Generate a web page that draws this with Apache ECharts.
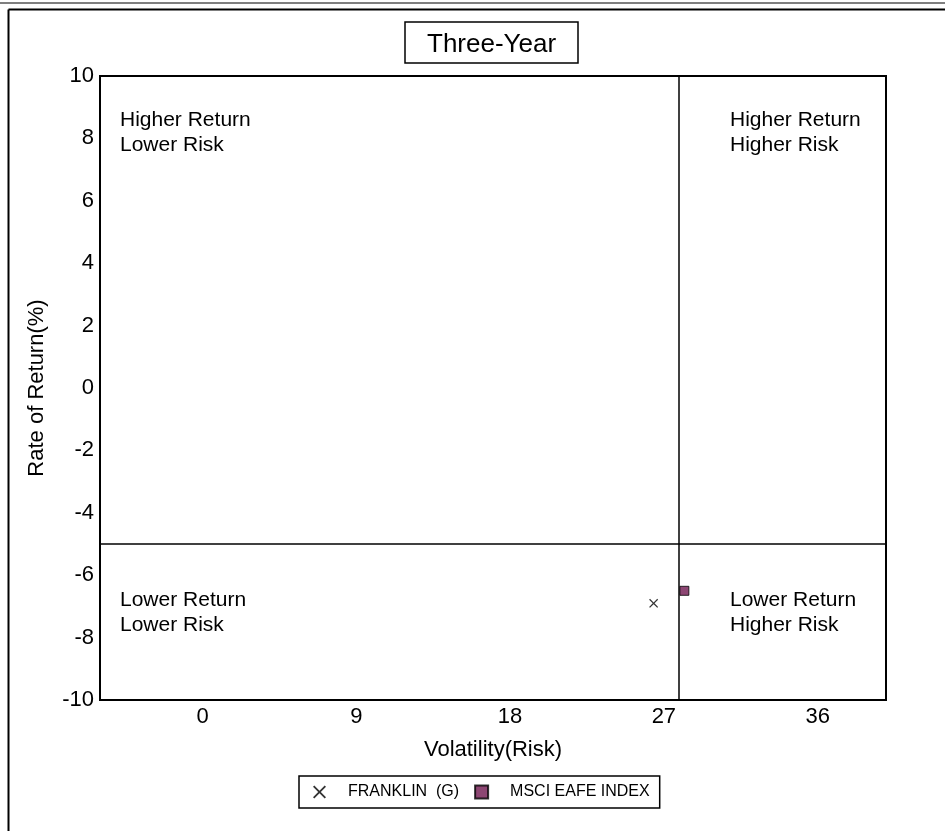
<!DOCTYPE html>
<html>
<head>
<meta charset="utf-8">
<script src="https://cdn.jsdelivr.net/npm/echarts@6/dist/echarts.min.js"></script>
<style>
html,body{margin:0;padding:0;background:#fff;}
#c{width:945px;height:831px;}
</style>
</head>
<body>
<div id="c"></div>
<script>
const titleText = 'Three-Year';
const seriesNames = ['FRANKLIN  (G)', 'MSCI EAFE INDEX'];
const franklinPoints = [[26.4, -6.9]];
const eafePoints = [[28.2, -6.5]];
const xTickValues = [0, 9, 18, 27, 36];
const xRange = [-6, 40];
const yRange = [-10, 10];
const yInterval = 2;
const quadrantX = 27.9;
const quadrantY = -5;
const quadrantTexts = [
  ['Higher Return', 'Lower Risk'],
  ['Higher Return', 'Higher Risk'],
  ['Lower Return', 'Lower Risk'],
  ['Lower Return', 'Higher Risk']
];
const xName = 'Volatility(Risk)';
const yName = 'Rate of Return(%)';

const FONT = 'Liberation Sans, Arial, Helvetica, sans-serif';
const crossPath = 'path://M0,1L1,0L5,4L9,0L10,1L6,5L10,9L9,10L5,6L1,10L0,9L4,5Z';

const chart = echarts.init(document.getElementById('c'), null, {renderer: 'canvas'});

const quadPos = [[120, 108], [730, 108], [120, 588], [730, 588]];
const quadGraphics = quadrantTexts.map((lines, i) => ({
  type: 'text',
  left: quadPos[i][0],
  top: quadPos[i][1],
  style: {
    text: lines.join('\n'),
    font: '21px ' + FONT,
    fill: '#000',
    lineHeight: 25
  }
}));

const option = {
  animation: false,
  backgroundColor: '#fff',
  textStyle: {fontFamily: FONT},
  title: {
    text: titleText,
    left: 405,
    top: 22,
    padding: [10, 22, 5, 22],
    borderColor: '#000',
    borderWidth: 1.5,
    textStyle: {fontSize: 26, fontWeight: 'normal', color: '#000', fontFamily: FONT}
  },
  legend: {
    left: 299,
    top: 776,
    orient: 'horizontal',
    borderColor: '#000',
    borderWidth: 1.5,
    padding: [8, 10, 8, 14],
    itemWidth: 13,
    itemHeight: 13,
    itemGap: 15,
    textStyle: {fontSize: 16, color: '#000', fontFamily: FONT, padding: [0, 0, 0, 17]},
    data: [
      {name: seriesNames[0], icon: crossPath},
      {name: seriesNames[1], icon: 'rect'}
    ]
  },
  grid: {
    left: 100, right: 59, top: 76, bottom: 131,
    show: true,
    borderColor: '#000',
    borderWidth: 2,
    containLabel: false
  },
  xAxis: {
    type: 'value',
    min: xRange[0],
    max: xRange[1],
    name: xName,
    nameLocation: 'middle',
    nameGap: 39,
    nameTextStyle: {fontSize: 22, color: '#000', fontFamily: FONT},
    axisLine: {show: true, onZero: false, lineStyle: {color: '#000', width: 2}},
    axisTick: {show: false},
    splitLine: {show: false},
    axisLabel: {
      customValues: xTickValues,
      fontSize: 22, color: '#000', fontFamily: FONT, margin: 6
    }
  },
  yAxis: {
    type: 'value',
    min: yRange[0],
    max: yRange[1],
    interval: yInterval,
    name: yName,
    nameLocation: 'middle',
    nameGap: 52,
    nameTextStyle: {fontSize: 22, color: '#000', fontFamily: FONT},
    axisLine: {show: true, onZero: false, lineStyle: {color: '#000', width: 2}},
    axisTick: {show: false},
    splitLine: {show: false},
    axisLabel: {fontSize: 22, color: '#000', fontFamily: FONT, margin: 6}
  },
  series: [
    {
      name: seriesNames[0],
      type: 'scatter',
      symbol: crossPath,
      symbolSize: 9,
      itemStyle: {color: '#000'},
      data: franklinPoints,
      markLine: {
        silent: true,
        symbol: ['none', 'none'],
        label: {show: false},
        lineStyle: {color: '#000', width: 1.5, type: 'solid'},
        data: [{xAxis: quadrantX}, {yAxis: quadrantY}]
      },
      z: 3
    },
    {
      name: seriesNames[1],
      type: 'scatter',
      symbol: 'rect',
      symbolSize: 9,
      itemStyle: {color: '#701850', borderColor: '#000', borderWidth: 1},
      data: eafePoints,
      z: 4
    }
  ],
  graphic: [
    {type: 'line', shape: {x1: 0, y1: 3, x2: 945, y2: 3}, style: {stroke: '#555', lineWidth: 1.5}},
    {type: 'line', shape: {x1: 8.5, y1: 9.5, x2: 945, y2: 9.5}, style: {stroke: '#000', lineWidth: 2}},
    {type: 'line', shape: {x1: 8.5, y1: 9.5, x2: 8.5, y2: 831}, style: {stroke: '#000', lineWidth: 2}}
  ].concat(quadGraphics)
};

chart.setOption(option);
</script>
</body>
</html>
